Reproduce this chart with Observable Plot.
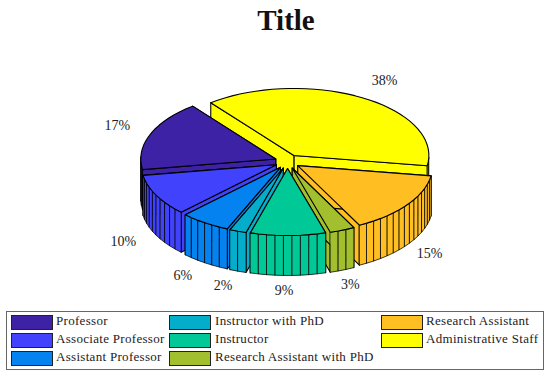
<!DOCTYPE html>
<html>
<head>
<meta charset="utf-8">
<script src="https://cdn.jsdelivr.net/npm/d3@7"></script>
<script src="https://cdn.jsdelivr.net/npm/@observablehq/plot@0.6"></script>
<style>
  html, body { margin: 0; padding: 0; background: #fff; }
  body { width: 550px; height: 378px; position: relative; overflow: hidden; font-family: "Liberation Serif", serif; color: #222; }
  #title { position: absolute; left: 0; top: 0; width: 572px; height: 40px; text-align: center; font-size: 29px; font-weight: bold; line-height: 40px; color: #111; }
  #chart { position: absolute; left: 0; top: 40px; }
  #legend { position: absolute; left: 6px; top: 311px; width: 536px; height: 57px; border: 1px solid #666; box-sizing: content-box; }
  .sw { position: absolute; width: 40px; height: 13px; border: 1px solid #222; }
  .lb { position: absolute; font-size: 13px; line-height: 16px; white-space: nowrap; letter-spacing: 0.3px; }
</style>
</head>
<body>
<div id="title">Title</div>
<div id="chart"></div>
<div id="legend"></div>
<script>
const categories = ["Professor", "Associate Professor", "Assistant Professor", "Instructor with PhD", "Instructor", "Research Assistant with PhD", "Research Assistant", "Administrative Staff"];
const percents = [17, 10, 6, 2, 9, 3, 15, 38];
const colors = ["#3d22a6", "#4142fb", "#0382f0", "#04aecb", "#00c896", "#a2bf2e", "#ffbe21", "#ffff00"];

// Projection of the tilted pie
const startAngle = 128, rx = 135, ry = 67, depth = 40, ex = 12.6, ey = 7;
const rad = Math.PI / 180;
const degPerPct = 3.6;

const faces = [];
const labels = [];
const wedges = [];
let cum = 0;
categories.forEach((name, i) => {
  const s = startAngle + cum * degPerPct;
  const e = s + percents[i] * degPerPct;
  const m = (s + e) / 2;
  cum += percents[i];
  wedges.push({name, pct: percents[i], s, e, m});
});
wedges.sort((a, b) => Math.sin(b.m * rad) - Math.sin(a.m * rad));

let fid = 0;
function addFace(name, pts, lw) {
  const id = fid++;
  for (const [x, y] of pts) faces.push({x, y, face: id, name, lw});
}
for (const w of wedges) {
  const ax = ex * Math.cos(w.m * rad), ay = -ey * Math.sin(w.m * rad);
  const P = t => [ax + rx * Math.cos(t * rad), ay - ry * Math.sin(t * rad)];
  const down = ([x, y]) => [x, y + depth];
  const apex = [ax, ay];
  // inner radial faces
  for (const t of [w.s, w.e]) addFace(w.name, [apex, P(t), down(P(t)), down(apex)], 1.1);
  // outer panels, one per percent
  const arc = [];
  for (let k = 0; k <= w.pct; k++) arc.push(P(w.s + k * degPerPct));
  for (let k = 0; k < w.pct; k++) {
    const mid = w.s + (k + 0.5) * degPerPct;
    if (Math.sin(mid * rad) < 0) addFace(w.name, [arc[k], arc[k + 1], down(arc[k + 1]), down(arc[k])], 0.75);
  }
  // top surface
  addFace(w.name, [apex, ...arc], 1.1);
  // percentage label: above the rim at the back, beside the base at the front
  const c = Math.cos(w.m * rad), sn = Math.sin(w.m * rad);
  labels.push(sn < 0
    ? {x: 180 * c - 4, y: -90 * sn + depth - 1, text: w.pct + "%"}
    : {x: 186 * c + 3, y: -90 * sn - 3, text: w.pct + "%"});
}

const cx = 287, cy = 161, svgTop = 40, svgH = 265;
const plot = Plot.plot({
  width: 550, height: svgH, margin: 0,
  x: {domain: [-cx, 550 - cx], range: [0, 550], axis: null},
  y: {domain: [svgTop - cy, svgTop + svgH - cy], range: [0, svgH], axis: null},
  color: {type: "ordinal", domain: categories, range: colors},
  style: {background: "transparent"},
  marks: [
    Plot.line(faces, {x: "x", y: "y", z: "face", fill: "name", stroke: "#000", strokeWidth: "lw", curve: "linear-closed", strokeLinejoin: "round"}),
    Plot.text(labels, {x: "x", y: "y", text: "text", fontSize: 14, fontFamily: "Liberation Serif", fill: "#222"})
  ]
});
document.getElementById("chart").appendChild(plot);

const legend = document.getElementById("legend");
const colX = [4, 162, 374], rowY = [3, 21, 39], textX = [49, 208, 419];
categories.forEach((name, i) => {
  const col = i < 3 ? 0 : i < 6 ? 1 : 2;
  const row = i < 6 ? i % 3 : i - 6;
  const sw = document.createElement("div");
  sw.className = "sw";
  sw.style.cssText = `left:${colX[col]}px;top:${rowY[row]}px;background:${colors[i]}`;
  const lb = document.createElement("div");
  lb.className = "lb";
  lb.textContent = name;
  lb.style.cssText = `left:${textX[col]}px;top:${rowY[row] - 2}px`;
  legend.append(sw, lb);
});
</script>
</body>
</html>
